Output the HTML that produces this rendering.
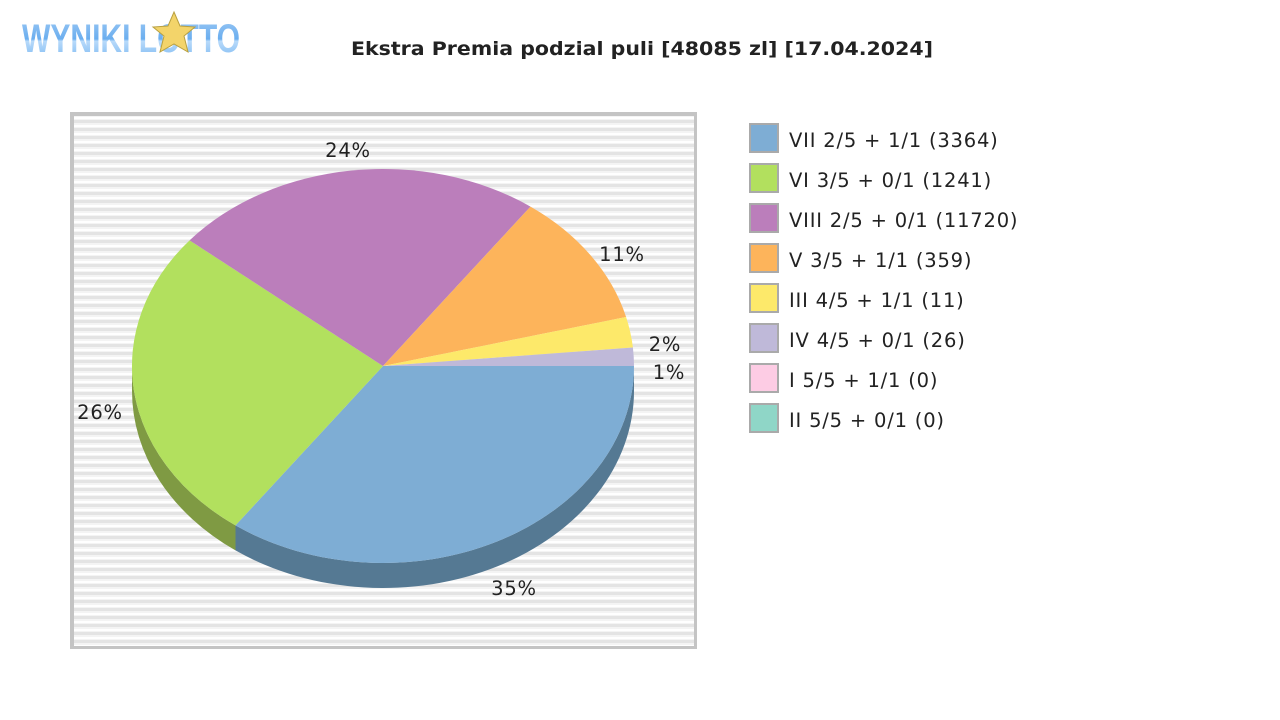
<!DOCTYPE html>
<html><head><meta charset="utf-8"><style>
html,body{margin:0;padding:0;background:#fff;width:1280px;height:720px;overflow:hidden;font-family:"DejaVu Sans",sans-serif}
</style></head><body>
<svg width="1280" height="720" xmlns="http://www.w3.org/2000/svg" style="position:absolute;left:0;top:0">
<defs>
<pattern id="st" width="8" height="8" patternUnits="userSpaceOnUse">
<rect width="8" height="8" fill="#f4f4f4"/><rect y="0" width="8" height="3" fill="#e4e4e4"/><rect y="5" width="8" height="2" fill="#ffffff"/>
</pattern>
<linearGradient id="lg" x1="0" y1="0" x2="0" y2="1"><stop offset="0" stop-color="#9cc8f4"/><stop offset="0.5" stop-color="#6aaeef"/><stop offset="0.55" stop-color="#b8dafa"/><stop offset="1" stop-color="#7ab8f2"/></linearGradient>
</defs>
<text x="22" y="52" font-family="Liberation Sans,sans-serif" font-weight="bold" font-size="40" fill="url(#lg)" textLength="218" lengthAdjust="spacingAndGlyphs">WYNIKI LOTTO</text>
<polygon points="174,12 180,26 195,27 184,36 188,52 174,44 160,52 164,36 153,27 168,26" fill="#f3d46a" stroke="#b8a040"/>
<text x="351" y="55" font-weight="bold" font-size="19" fill="#222" textLength="582" lengthAdjust="spacingAndGlyphs">Ekstra Premia podzial puli [48085 zl] [17.04.2024]</text>
<rect x="70" y="112" width="627" height="537" fill="url(#st)"/>
<rect x="70" y="112" width="627" height="4" fill="#c4c4c4"/>
<rect x="70" y="112" width="4" height="537" fill="#c4c4c4"/>
<rect x="70" y="646" width="627" height="3" fill="#c4c4c4"/>
<rect x="694" y="112" width="3" height="537" fill="#c4c4c4"/>
<path d="M634,366 A251,197 0 0 1 235.5,525.4 L235.5,550.4 A251,197 0 0 0 634,391 Z" fill="#557993"/>
<path d="M235.5,525.4 A251,197 0 0 1 132,366 L132,391 A251,197 0 0 0 235.5,550.4 Z" fill="#7f9a43"/>
<path d="M383,366 L634,366 A251,197 0 0 1 235.5,525.4 Z" fill="#7eadd4"/>
<path d="M383,366 L235.5,525.4 A251,197 0 0 1 189.6,240.4 Z" fill="#b2e05e"/>
<path d="M383,366 L189.6,240.4 A251,197 0 0 1 530.5,206.6 Z" fill="#bb7ebb"/>
<path d="M383,366 L530.5,206.6 A251,197 0 0 1 626.1,317 Z" fill="#fdb45b"/>
<path d="M383,366 L626.1,317 A251,197 0 0 1 632.9,347.5 Z" fill="#fde96a"/>
<path d="M383,366 L632.9,347.5 A251,197 0 0 1 634,366 Z" fill="#bfb9d9"/>
<g font-size="19.5" fill="#222" text-anchor="middle" letter-spacing="0.8">
<text x="348" y="157">24%</text>
<text x="622" y="261">11%</text>
<text x="665" y="351">2%</text>
<text x="669" y="379">1%</text>
<text x="100" y="419">26%</text>
<text x="514" y="595">35%</text>
</g>
<g font-size="19.5" fill="#222" letter-spacing="0.8">
<rect x="750" y="124" width="28" height="28" fill="#7eadd4" stroke="#aaa" stroke-width="2"/><text x="789" y="147">VII 2/5 + 1/1 (3364)</text>
<rect x="750" y="164" width="28" height="28" fill="#b2e05e" stroke="#aaa" stroke-width="2"/><text x="789" y="187">VI 3/5 + 0/1 (1241)</text>
<rect x="750" y="204" width="28" height="28" fill="#bb7ebb" stroke="#aaa" stroke-width="2"/><text x="789" y="227">VIII 2/5 + 0/1 (11720)</text>
<rect x="750" y="244" width="28" height="28" fill="#fdb45b" stroke="#aaa" stroke-width="2"/><text x="789" y="267">V 3/5 + 1/1 (359)</text>
<rect x="750" y="284" width="28" height="28" fill="#fde96a" stroke="#aaa" stroke-width="2"/><text x="789" y="307">III 4/5 + 1/1 (11)</text>
<rect x="750" y="324" width="28" height="28" fill="#bfb9d9" stroke="#aaa" stroke-width="2"/><text x="789" y="347">IV 4/5 + 0/1 (26)</text>
<rect x="750" y="364" width="28" height="28" fill="#fdcce4" stroke="#aaa" stroke-width="2"/><text x="789" y="387">I 5/5 + 1/1 (0)</text>
<rect x="750" y="404" width="28" height="28" fill="#8fd6c7" stroke="#aaa" stroke-width="2"/><text x="789" y="427">II 5/5 + 0/1 (0)</text>
</g>
</svg>
</body></html>
